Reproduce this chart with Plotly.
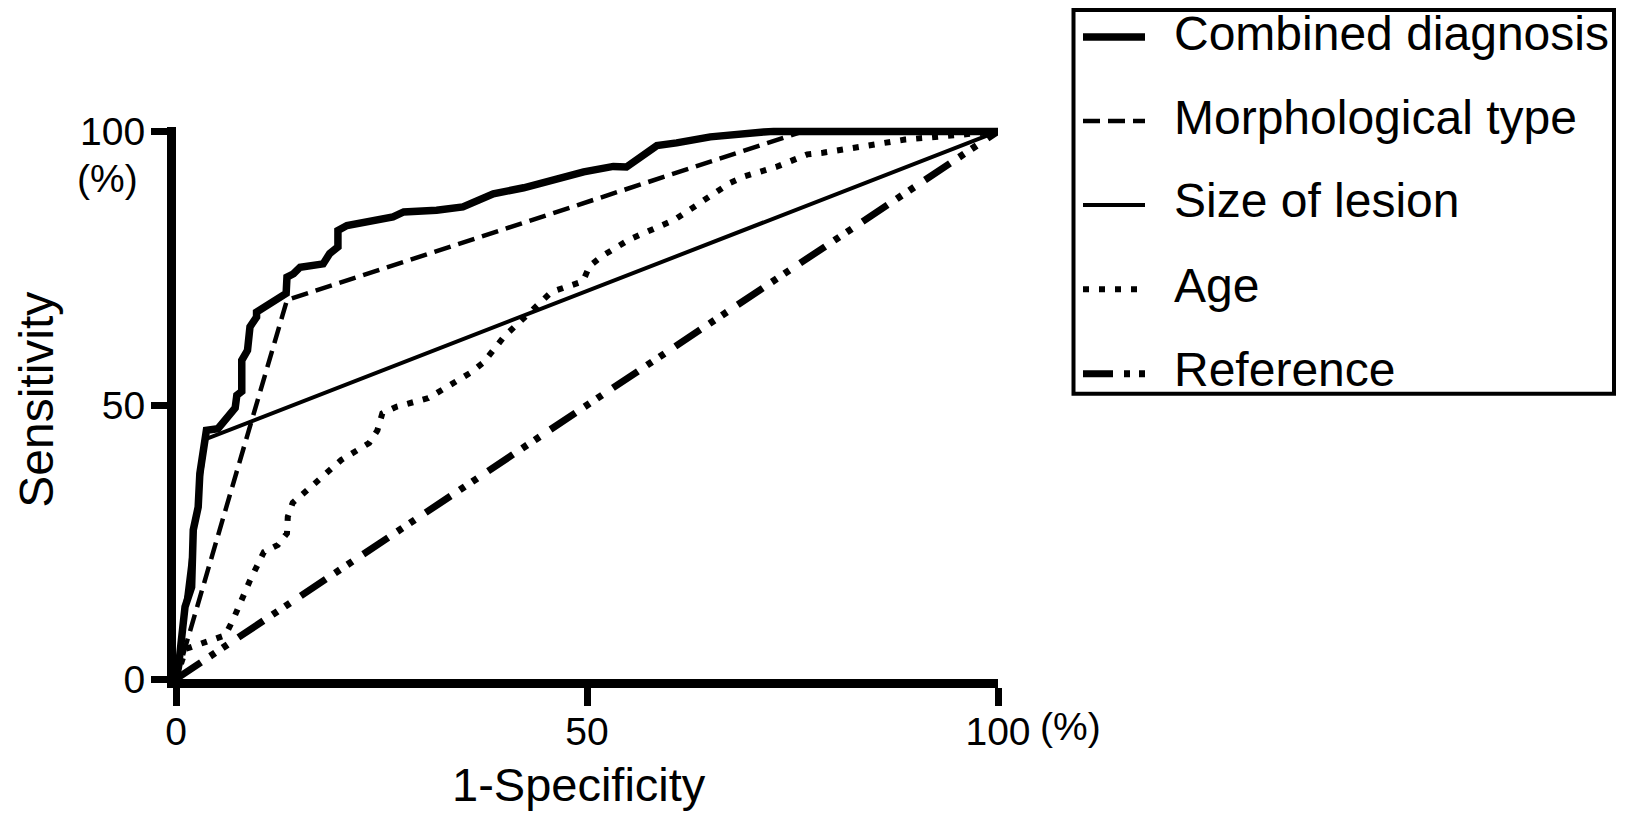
import plotly.graph_objects as go

# ROC curves, values (percent)
combined_x = [0, 0.3, 1.1, 1.9, 2.1, 2.7, 2.9, 3.3, 3.7, 5.1, 6.2, 7.2, 7.4, 8.0, 8.0, 8.7, 9.0,
              9.8, 9.8, 12.4, 13.4, 13.5, 14.3, 15.1, 17.9, 18.7, 19.7, 19.7, 20.8, 26.4, 27.7,
              31.7, 34.9, 38.6, 42.3, 49.6, 53.2, 54.8, 58.5, 60.9, 65.0, 71.5, 72.7, 100]
combined_y = [0, 2.2, 13.2, 16.8, 27.2, 31.4, 37.5, 42.4, 45.4, 45.7, 47.9, 49.5, 51.8, 52.5, 58.2,
              60.0, 64.3, 66.1, 67.0, 69.5, 70.4, 73.4, 74.0, 75.2, 75.8, 77.7, 78.9, 81.9, 82.8,
              84.4, 85.3, 85.6, 86.2, 88.6, 89.7, 92.6, 93.6, 93.5, 97.4, 97.9, 99.0, 99.9, 100, 100]

morph_x = [0, 13.5, 76.3, 100]
morph_y = [0, 69.2, 100, 100]

size_x = [0, 3.6, 100]
size_y = [0, 43.8, 100]

age_x = [0, 1.2, 6.0, 7.0, 9.0, 10.7, 12.4, 13.5, 13.6, 14.2, 15.6, 20.1, 23.5, 24.5, 25.1, 26.8,
         30.7, 34.1, 35.8, 37.4, 39.9, 45.7, 47.6, 49.5, 50.3, 51.8, 55.2, 58.8, 60.7, 62.4, 67.4,
         69.2, 73.0, 76.8, 78.7, 88.7, 96.4, 100]
age_y = [0, 5.5, 8.0, 11.0, 18.0, 23.2, 24.5, 26.6, 29.6, 32.2, 34.0, 40.0, 43.1, 45.4, 48.5, 49.7,
         51.3, 54.3, 55.9, 57.8, 62.5, 70.7, 71.7, 72.6, 75.4, 77.2, 80.3, 82.8, 83.9, 85.6, 90.6,
         91.8, 93.5, 95.8, 96.1, 98.5, 99.7, 100]

ref_x = [0, 100]
ref_y = [0, 100]

names = ["Combined diagnosis", "Morphological type", "Size of lesion", "Age", "Reference"]
widths = [7.5, 4.5, 4, 6, 7]
dashes = ["solid", "17px,8px", "solid", "6px,10px", "30px,11px,6px,9px,6px,13px"]

FONT = "Liberation Sans, Arial, Helvetica, sans-serif"

fig = go.Figure()
series = [(combined_x, combined_y), (morph_x, morph_y), (size_x, size_y), (age_x, age_y), (ref_x, ref_y)]
for (xs, ys), nm, w, d in zip(series, names, widths, dashes):
    fig.add_trace(go.Scatter(x=xs, y=ys, mode="lines", name=nm,
                             line=dict(color="black", width=w, dash=d)))


# pixel -> paper helpers (page pixels; plot area spans x 176..998, y 127..679.5)
def px_x(px):
    return (px - 176) / 822


def px_y(py):
    return (679.5 - py) / 552.5


shapes = [dict(type="rect", xref="paper", yref="paper",
               x0=px_x(1073.5), x1=px_x(1614), y0=px_y(394), y1=px_y(10),
               line=dict(color="black", width=4), fillcolor="rgba(0,0,0,0)")]
annotations = []
row_y = [33, 117, 201, 285.5, 370]
for nm, w, d, ry in zip(names, widths, dashes, row_y):
    shapes.append(dict(type="line", xref="paper", yref="paper",
                       x0=px_x(1083), x1=px_x(1145), y0=px_y(ry + 4), y1=px_y(ry + 4),
                       line=dict(color="black", width=w, dash=d)))
    annotations.append(dict(text=nm, xref="paper", yref="paper", x=px_x(1172), y=px_y(ry),
                            xanchor="left", yanchor="middle", showarrow=False,
                            font=dict(size=48, color="black", family=FONT)))

# "(%)" unit labels next to the 100 ticks
annotations.append(dict(text="(%)", xref="x", yref="y", x=0, y=100, xanchor="right",
                        yanchor="middle", xshift=-36, yshift=-47, showarrow=False,
                        font=dict(size=39, color="black", family=FONT)))
annotations.append(dict(text="(%)", xref="x", yref="paper", x=100, y=0, xanchor="left",
                        yanchor="middle", xshift=40, yshift=-47.5, showarrow=False,
                        font=dict(size=39, color="black", family=FONT)))

# axis titles
annotations.append(dict(text="Sensitivity", xref="paper", yref="paper", x=px_x(37), y=px_y(400),
                        xanchor="center", yanchor="middle", textangle=-90, showarrow=False,
                        font=dict(size=48, color="black", family=FONT)))
annotations.append(dict(text="1-Specificity", xref="paper", yref="paper", x=px_x(579), y=px_y(785),
                        xanchor="center", yanchor="middle", showarrow=False,
                        font=dict(size=47, color="black", family=FONT)))

# the page body adds an 8px margin, so the figure is kept inside the window
fig.update_layout(
    width=1609, height=804,
    margin=dict(l=168, r=619, t=119, b=132.5),
    plot_bgcolor="white", paper_bgcolor="white",
    font=dict(family=FONT, color="black"),
    showlegend=False,
    shapes=shapes,
    annotations=annotations,
)
fig.update_xaxes(range=[0, 100], tickvals=[0, 50, 100], ticktext=["0", "50", "100"],
                 showgrid=False, zeroline=False, showline=True, linecolor="black", linewidth=9,
                 ticks="outside", ticklen=18, tickwidth=7, tickcolor="black",
                 tickfont=dict(size=39, family=FONT), ticklabelstandoff=-8)
fig.update_yaxes(range=[0, 100.8], tickvals=[0, 50, 100],
                 showgrid=False, zeroline=False, showline=True, linecolor="black", linewidth=9,
                 ticks="outside", ticklen=16, tickwidth=7, tickcolor="black",
                 tickfont=dict(size=39, family=FONT), ticklabelstandoff=-2)

fig.write_html("out.html")
